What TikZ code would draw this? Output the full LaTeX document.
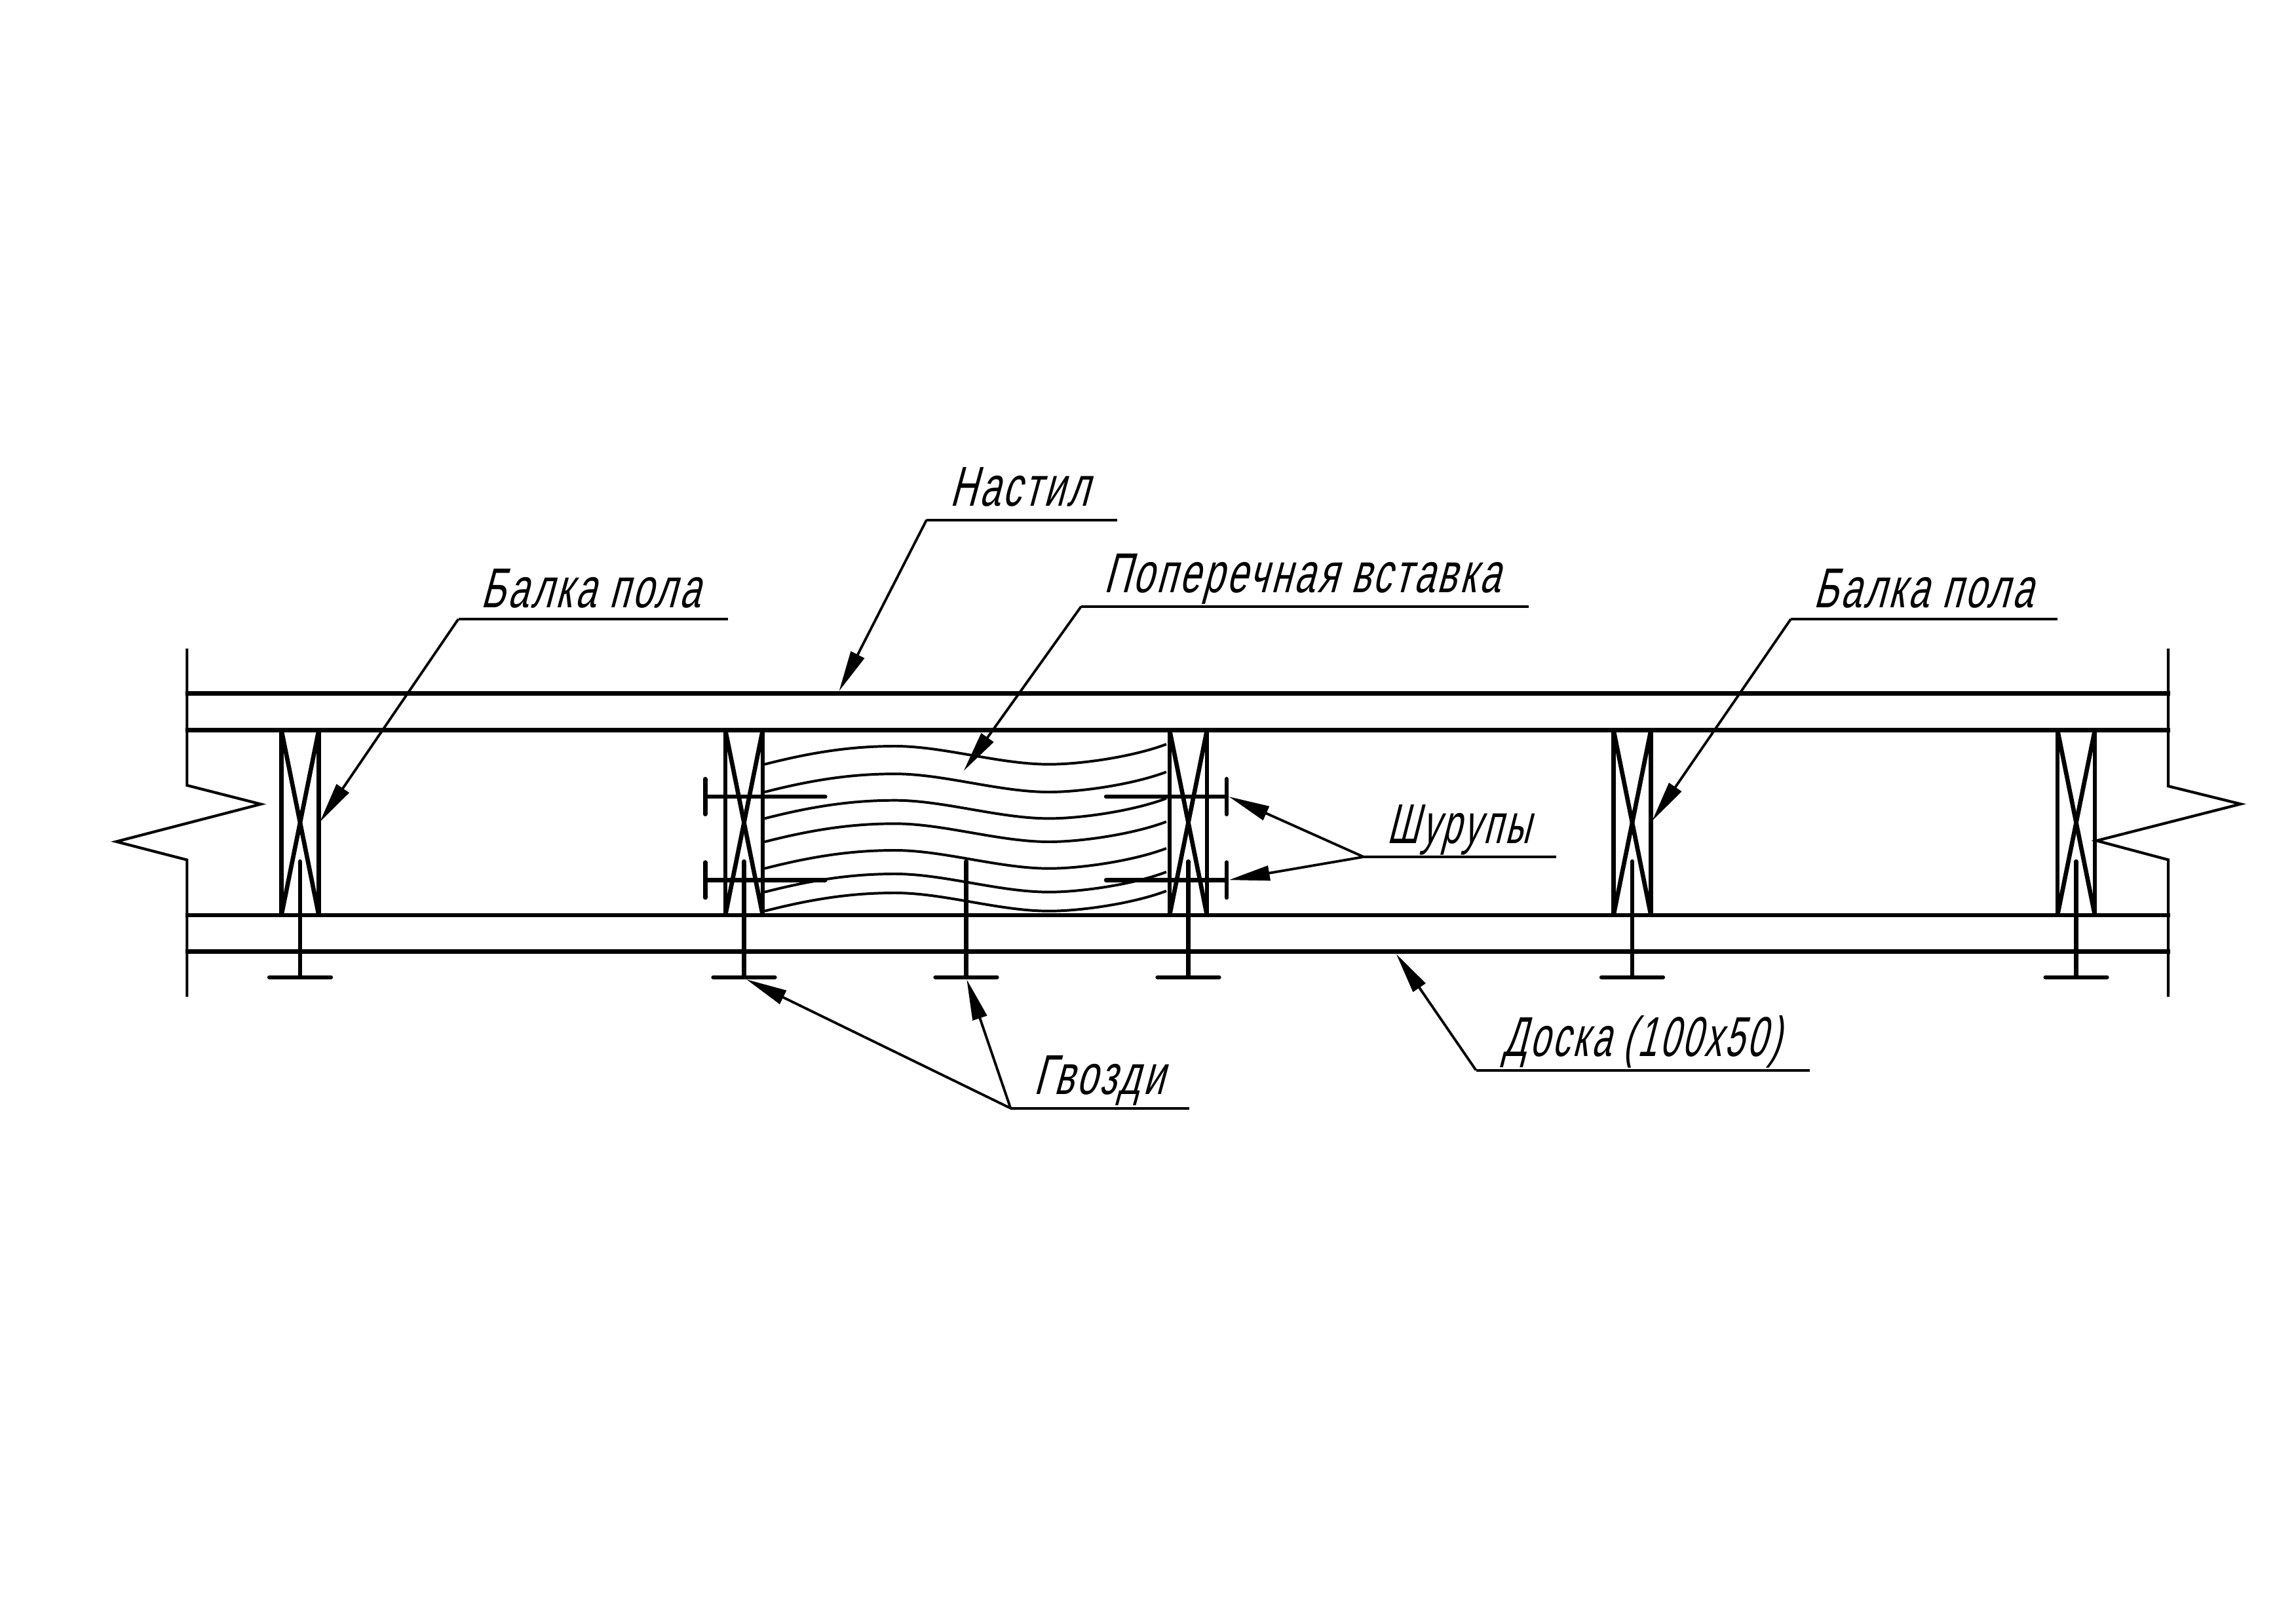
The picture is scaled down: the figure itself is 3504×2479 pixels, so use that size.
\documentclass[tikz,border=0pt]{standalone}
\usepackage{graphicx}
\usepackage{fontspec}
\setmainfont[FakeSlant=0.27,FakeStretch=0.66,LetterSpace=5]{Liberation Sans}
\usetikzlibrary{arrows.meta}
\tikzset{
  every picture/.style={x=0.24pt,y=-0.24pt},
  heavy/.style={line width=1.6pt},
  pin/.style={line width=1.55pt,line cap=round},
  pinhead/.style={line width=1.5pt,line cap=round},
  edge line/.style={line width=1pt,line join=miter},
  grain/.style={line width=0.95pt},
  leader/.style={line width=0.92pt,-{Triangle[length=15pt,width=5.4pt]}},
  shelf/.style={line width=0.95pt},
  lbl/.style={anchor=base west,inner sep=0pt,outer sep=0pt,font=\fontsize{20.6pt}{23pt}\selectfont}
}
\begin{document}
\begin{tikzpicture}
\useasboundingbox (0,0) rectangle (3504,2479);
\fill[white] (0,0) rectangle (3504,2479);
% frame and break lines
\draw[edge line] (285.4,990) -- (285.4,1198.8) -- (398,1227.5) -- (177.5,1284.7) -- (285.4,1312.6) -- (285.4,1521.7);
\draw[edge line] (3309,990) -- (3309,1200) -- (3419.5,1227.3) -- (3199.7,1283.3) -- (3309,1312.4) -- (3309,1521.7);
% boards
\foreach \yy in {1058.5,1114.5,1397,1452.7}
  \draw[heavy] (283,\yy) -- (3312,\yy);
% joists with crosses
\foreach \xx in {429.5,1107,1785,2462.5,3140}{
  \draw[heavy] (\xx,1114.5) -- (\xx,1397);
  \draw[heavy] (\xx+57,1114.5) -- (\xx+57,1397);
  \draw[heavy] (\xx,1114.5) -- (\xx+57,1397);
  \draw[heavy] (\xx+57,1114.5) -- (\xx,1397);
}
% nails
\foreach \xx in {458,1135.5,1474.5,1813.5,2491,3168.5}{
  \draw[pin] (\xx,1315) -- (\xx,1491.7);
  \draw[pinhead] (\xx-47,1491.7) -- (\xx+47,1491.7);
}
% grain of the insert
\foreach \dy in {0,42.3,82.7,118.3,159,195,224}
  \draw[grain,yshift=-0.24pt*\dy] (1167,1166.7) .. controls (1240,1148) and (1300,1139) .. (1366,1139)
     .. controls (1440,1139) and (1525,1166.7) .. (1601,1166.7)
     .. controls (1650,1166.7) and (1730,1155) .. (1780,1136);
% screws
\foreach \yy in {1216,1343.3}{
  \draw[pin] (1076.4,\yy) -- (1259.5,\yy);
  \draw[pinhead] (1076.4,\yy-27) -- (1076.4,\yy+27);
  \draw[pin] (1688,\yy) -- (1872,\yy);
  \draw[pinhead] (1872,\yy-27) -- (1872,\yy+27);
}
% label elbows and targets
\coordinate (beamLelbow) at (699.5,945);
\coordinate (beamLend) at (1110.6,945);
\coordinate (beamLtip) at (488,1255);
\coordinate (deckElbow) at (1414,793.7);
\coordinate (deckEnd) at (1705,793.7);
\coordinate (deckTip) at (1280.5,1055);
\coordinate (insElbow) at (1650,925.7);
\coordinate (insEnd) at (2333,925.7);
\coordinate (insTip) at (1470.7,1176.7);
\coordinate (beamRelbow) at (2733,945);
\coordinate (beamRend) at (3140,945);
\coordinate (beamRtip) at (2521.4,1253);
\coordinate (scrElbow) at (2081,1308);
\coordinate (scrEnd) at (2375,1308);
\coordinate (scrTipA) at (1875.4,1216);
\coordinate (scrTipB) at (1875.4,1343.3);
\coordinate (boardElbow) at (2252.5,1633.6);
\coordinate (boardEnd) at (2762,1633.6);
\coordinate (boardTip) at (2130.8,1456.2);
\coordinate (nailElbow) at (1542.3,1691.7);
\coordinate (nailEnd) at (1815,1691.7);
\coordinate (nailTipA) at (1139,1495);
\coordinate (nailTipB) at (1475.3,1495);
% leaders
\draw[shelf] (beamLend) -- (beamLelbow);
\draw[leader] (beamLelbow) -- (beamLtip);
\draw[shelf] (deckEnd) -- (deckElbow);
\draw[leader] (deckElbow) -- (deckTip);
\draw[shelf] (insEnd) -- (insElbow);
\draw[leader] (insElbow) -- (insTip);
\draw[shelf] (beamRend) -- (beamRelbow);
\draw[leader] (beamRelbow) -- (beamRtip);
\draw[shelf] (scrEnd) -- (scrElbow);
\draw[leader] (scrElbow) -- (scrTipA);
\draw[leader] (scrElbow) -- (scrTipB);
\draw[shelf] (boardEnd) -- (boardElbow);
\draw[leader] (boardElbow) -- (boardTip);
\draw[shelf] (nailEnd) -- (nailElbow);
\draw[leader] (nailElbow) -- (nailTipA);
\draw[leader] (nailElbow) -- (nailTipB);
% labels
\node[lbl] (tdeck) at (1449,772.7) {Настил};
\node[lbl] (tins) at (1684,904) {Поперечная вставка};
\node[lbl] (tbeamL) at (733,927) {Балка пола};
\node[lbl] (tbeamR) at (2767,927) {Балка пола};
\node[lbl] (tscr) at (2116,1287.7) {\scalebox{0.945}[1]{Шурупы}};
\node[lbl] (tboard) at (2293.5,1612.8) {\scalebox{0.948}[1]{Доска (100х50)}};
\node[lbl] (tnail) at (1577,1670) {Гвозди};
\end{tikzpicture}
\end{document}
